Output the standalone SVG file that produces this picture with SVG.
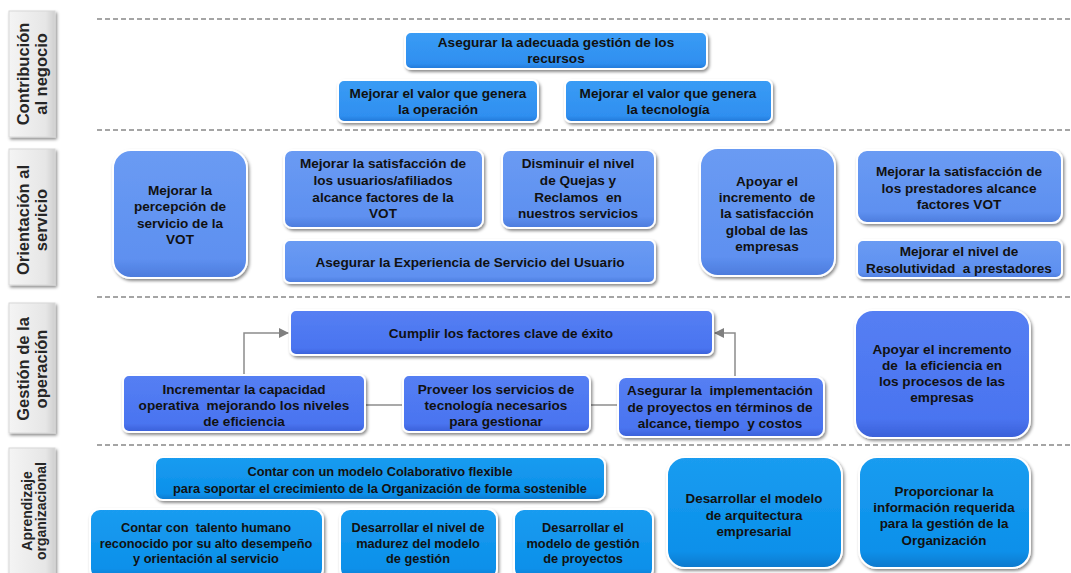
<svg xmlns="http://www.w3.org/2000/svg" width="1071" height="573" viewBox="0 0 1071 573">
<defs>
<filter id="sh" x="-10%" y="-10%" width="130%" height="140%">
<feDropShadow dx="1.5" dy="2" stdDeviation="1.5" flood-color="#000" flood-opacity="0.45"/>
</filter>
<linearGradient id="gC" x1="0" y1="0" x2="0" y2="1"><stop offset="0" stop-color="#3a9cf5"/><stop offset="0.85" stop-color="#2f8ff0"/><stop offset="1" stop-color="#2277d6"/></linearGradient>
<linearGradient id="gO" x1="0" y1="0" x2="0" y2="1"><stop offset="0" stop-color="#6a9bf3"/><stop offset="0.85" stop-color="#5e90f0"/><stop offset="1" stop-color="#4c7bdc"/></linearGradient>
<linearGradient id="gG" x1="0" y1="0" x2="0" y2="1"><stop offset="0" stop-color="#557ff3"/><stop offset="0.85" stop-color="#4a74f0"/><stop offset="1" stop-color="#3a60d8"/></linearGradient>
<linearGradient id="gA" x1="0" y1="0" x2="0" y2="1"><stop offset="0" stop-color="#1a9cf0"/><stop offset="0.85" stop-color="#0b90ea"/><stop offset="1" stop-color="#0878cc"/></linearGradient>
<linearGradient id="gL" x1="0" y1="0" x2="1" y2="0"><stop offset="0" stop-color="#f4f4f4"/><stop offset="0.8" stop-color="#e6e6e6"/><stop offset="1" stop-color="#cfcfcf"/></linearGradient>
<marker id="ar" viewBox="0 0 10 10" refX="9" refY="5" markerWidth="10" markerHeight="10" markerUnits="userSpaceOnUse" orient="auto"><path d="M0,0 L10,5 L0,10 z" fill="#7f7f7f"/></marker>
</defs>
<style>
.n rect{stroke:#ffffff;stroke-width:2;filter:url(#sh)}
.c rect{fill:url(#gC)}
.o rect{fill:url(#gO)}
.g rect{fill:url(#gG)}
.a rect{fill:url(#gA)}
.n text{font-family:"Liberation Sans",Arial,sans-serif;font-weight:bold;font-size:13.6px;fill:#111;text-anchor:middle}
.a text{font-size:12.8px}
.lab rect{fill:url(#gL);stroke:#d8d8d8;stroke-width:1;filter:url(#sh)}
.lab text{font-family:"Liberation Sans",Arial,sans-serif;font-weight:bold;font-size:16.5px;fill:#262626;text-anchor:middle}
.dash{stroke:#888;stroke-width:1.5;stroke-dasharray:5 3;fill:none}
.cn{stroke:#8c8c8c;stroke-width:1.5;fill:none}
</style>
<rect width="1071" height="573" fill="#ffffff"/>

<g id="dividers">
<line class="dash" x1="97" y1="19" x2="1071" y2="19"/>
<line class="dash" x1="97" y1="130" x2="1071" y2="130"/>
<line class="dash" x1="97" y1="297" x2="1071" y2="297"/>
<line class="dash" x1="97" y1="445" x2="1071" y2="445"/>
</g>

<g id="lab1" class="lab"><rect x="9" y="11" width="46" height="126"/><text transform="translate(32,74) rotate(-90)"><tspan x="0" y="-3">Contribución</tspan><tspan x="0" y="15">al negocio</tspan></text></g>
<g id="lab2" class="lab"><rect x="9" y="149" width="46" height="136"/><text transform="translate(32,220) rotate(-90)"><tspan x="0" y="-3">Orientación al</tspan><tspan x="0" y="15">servicio</tspan></text></g>
<g id="lab3" class="lab"><rect x="9" y="303" width="46" height="130"/><text transform="translate(32,369) rotate(-90)"><tspan x="0" y="-3">Gestión de la</tspan><tspan x="0" y="15">operación</tspan></text></g>
<g id="lab4" class="lab"><rect x="9" y="448" width="46" height="135"/><text transform="translate(32,511) rotate(-90)" style="font-size:14px"><tspan x="0" y="0">Aprendizaje</tspan><tspan x="0" y="14">organizacional</tspan></text></g>

<g id="connectors">
<polyline class="cn" points="244,375 244,333 288,333" marker-end="url(#ar)"/>
<polyline class="cn" points="735,376 735,333 715,333" marker-end="url(#ar)"/>
<line class="cn" x1="366" y1="405" x2="402" y2="405"/>
<line class="cn" x1="591" y1="405" x2="617" y2="405"/>
</g>

<g id="n1" class="n c"><rect x="405" y="32" width="302" height="37" rx="6"/><text><tspan x="556" y="47">Asegurar la adecuada gestión de los</tspan><tspan x="556" y="63">recursos</tspan></text></g>
<g id="n2" class="n c"><rect x="338" y="80" width="200" height="42" rx="6"/><text><tspan x="438" y="98">Mejorar el valor que genera</tspan><tspan x="438" y="114">la operación</tspan></text></g>
<g id="n3" class="n c"><rect x="565" y="80" width="207" height="42" rx="6"/><text><tspan x="668" y="98">Mejorar el valor que genera</tspan><tspan x="668" y="114">la tecnología</tspan></text></g>

<g id="n4" class="n o"><rect x="113" y="150" width="134" height="128" rx="18"/><text><tspan x="180" y="195">Mejorar la</tspan><tspan x="180" y="211">percepción de</tspan><tspan x="180" y="228">servicio de la</tspan><tspan x="180" y="244">VOT</tspan></text></g>
<g id="n5" class="n o"><rect x="284" y="150" width="199" height="78" rx="8"/><text><tspan x="383" y="168">Mejorar la satisfacción de</tspan><tspan x="383" y="185">los usuarios/afiliados</tspan><tspan x="383" y="202">alcance factores de la</tspan><tspan x="383" y="218">VOT</tspan></text></g>
<g id="n6" class="n o"><rect x="502" y="150" width="153" height="78" rx="8"/><text xml:space="preserve"><tspan x="578" y="168">Disminuir el nivel</tspan><tspan x="578" y="185">de Quejas y</tspan><tspan x="578" y="202">Reclamos  en</tspan><tspan x="578" y="218">nuestros servicios</tspan></text></g>
<g id="n7" class="n o"><rect x="284" y="240" width="371" height="43" rx="6"/><text><tspan x="470" y="267">Asegurar la Experiencia de Servicio del Usuario</tspan></text></g>
<g id="n8" class="n o"><rect x="700" y="148" width="135" height="128" rx="18"/><text xml:space="preserve"><tspan x="767" y="186">Apoyar el</tspan><tspan x="767" y="202">incremento  de</tspan><tspan x="767" y="218">la satisfacción</tspan><tspan x="767" y="235">global de las</tspan><tspan x="767" y="251">empresas</tspan></text></g>
<g id="n9" class="n o"><rect x="857" y="150" width="205" height="73" rx="10"/><text><tspan x="959" y="176">Mejorar la satisfacción de</tspan><tspan x="959" y="193">los prestadores alcance</tspan><tspan x="959" y="209">factores VOT</tspan></text></g>
<g id="n10" class="n o"><rect x="857" y="240" width="205" height="38" rx="6"/><text xml:space="preserve"><tspan x="959" y="256">Mejorar el nivel de</tspan><tspan x="959" y="273">Resolutividad  a prestadores</tspan></text></g>

<g id="n11" class="n g"><rect x="290" y="310" width="423" height="45" rx="6"/><text><tspan x="501" y="338">Cumplir los factores clave de éxito</tspan></text></g>
<g id="n12" class="n g"><rect x="123" y="375" width="242" height="57" rx="6"/><text xml:space="preserve"><tspan x="244" y="394">Incrementar la capacidad</tspan><tspan x="244" y="410">operativa  mejorando los niveles</tspan><tspan x="244" y="426">de eficiencia</tspan></text></g>
<g id="n13" class="n g"><rect x="403" y="375" width="187" height="57" rx="6"/><text><tspan x="496" y="394">Proveer los servicios de</tspan><tspan x="496" y="410">tecnología necesarios</tspan><tspan x="496" y="426">para gestionar</tspan></text></g>
<g id="n14" class="n g"><rect x="618" y="377" width="206" height="60" rx="8"/><text xml:space="preserve"><tspan x="720" y="395">Asegurar la  implementación</tspan><tspan x="720" y="412">de proyectos en términos de</tspan><tspan x="720" y="428">alcance, tiempo  y costos</tspan></text></g>
<g id="n15" class="n g"><rect x="855" y="310" width="175" height="128" rx="18"/><text xml:space="preserve"><tspan x="942" y="354">Apoyar el incremento</tspan><tspan x="942" y="370">de  la eficiencia en</tspan><tspan x="942" y="386">los procesos de las</tspan><tspan x="942" y="402">empresas</tspan></text></g>

<g id="n16" class="n a"><rect x="155" y="457" width="450" height="43" rx="8"/><text><tspan x="380" y="476">Contar con un modelo Colaborativo flexible</tspan><tspan x="380" y="493">para soportar el crecimiento de la Organización de forma sostenible</tspan></text></g>
<g id="n17" class="n a"><rect x="90" y="509" width="233" height="70" rx="10"/><text xml:space="preserve"><tspan x="206" y="532">Contar con  talento humano</tspan><tspan x="206" y="548">reconocido por su alto desempeño</tspan><tspan x="206" y="563">y orientación al servicio</tspan></text></g>
<g id="n18" class="n a"><rect x="340" y="509" width="157" height="70" rx="10"/><text><tspan x="418" y="532">Desarrollar el nivel de</tspan><tspan x="418" y="548">madurez del modelo</tspan><tspan x="418" y="563">de gestión</tspan></text></g>
<g id="n19" class="n a"><rect x="514" y="509" width="139" height="70" rx="10"/><text><tspan x="583" y="532">Desarrollar el</tspan><tspan x="583" y="548">modelo de gestión</tspan><tspan x="583" y="563">de proyectos</tspan></text></g>
<g id="n20" class="n a"><rect x="667" y="457" width="175" height="111" rx="18"/><text style="font-size:13.4px"><tspan x="754" y="503">Desarrollar el modelo</tspan><tspan x="754" y="520">de arquitectura</tspan><tspan x="754" y="536">empresarial</tspan></text></g>
<g id="n21" class="n a"><rect x="859" y="457" width="171" height="111" rx="18"/><text style="font-size:13.4px"><tspan x="944" y="496">Proporcionar la</tspan><tspan x="944" y="512">información requerida</tspan><tspan x="944" y="528">para la gestión de la</tspan><tspan x="944" y="545">Organización</tspan></text></g>
</svg>
